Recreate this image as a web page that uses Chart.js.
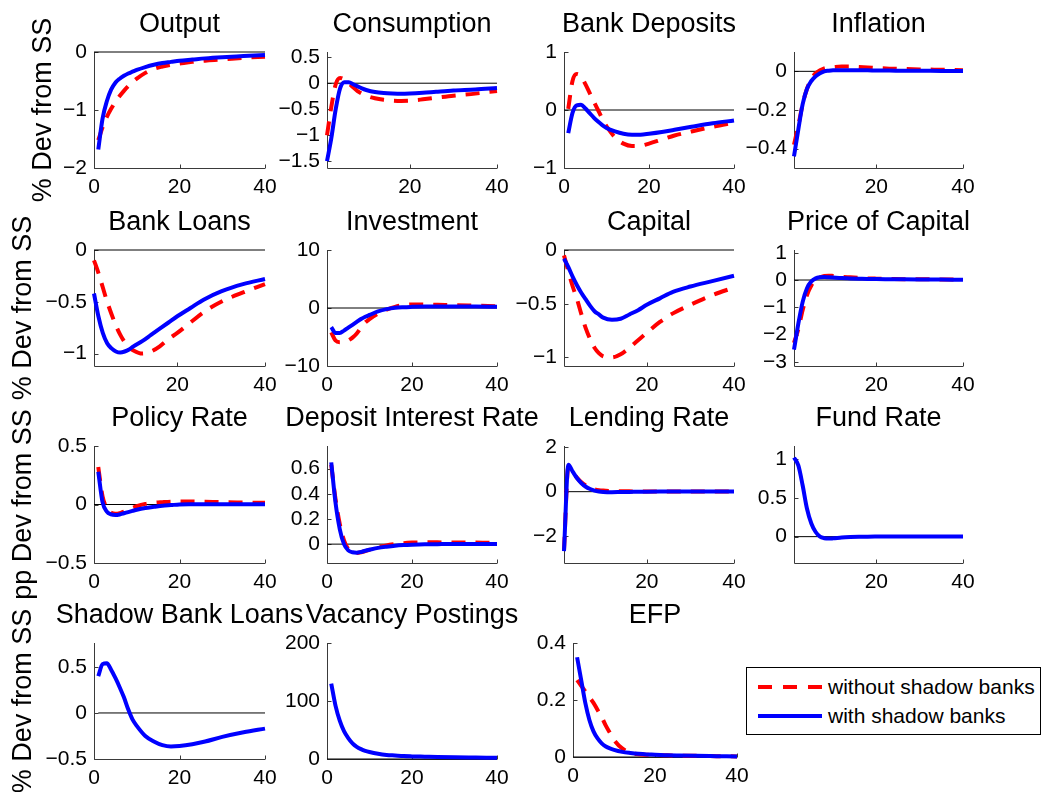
<!DOCTYPE html>
<html>
<head>
<meta charset="utf-8">
<script src="https://cdn.jsdelivr.net/npm/chart.js@4.4.1/dist/chart.umd.min.js"></script>
<style>
  body { margin: 0; background: #fff; }
  #fig { position: relative; width: 1052px; height: 792px; overflow: hidden; background: #fff;
         font-family: "Liberation Sans", Arial, Helvetica, sans-serif; }
  #fig canvas { position: absolute; }
  #legend { position: absolute; left: 746px; top: 667px; width: 295px; height: 68px; box-sizing: border-box;
            border: 1px solid #000; background: #fff; }
  #legend .item { position: absolute; left: 81px; height: 24px; line-height: 24px; font-size: 21px; color: #000; white-space: nowrap; }
</style>
</head>
<body>
<div id="fig">
  <div id="legend">
    <svg width="293" height="66" style="position:absolute;left:0;top:0">
      <line x1="11" y1="19" x2="75" y2="19" stroke="#ff0000" stroke-width="4" stroke-dasharray="14 11"/>
      <line x1="11" y1="48" x2="75" y2="48" stroke="#0000ff" stroke-width="4"/>
    </svg>
    <div class="item" style="top:7px">without shadow banks</div>
    <div class="item" style="top:36px">with shadow banks</div>
  </div>
</div>
<script>
// quarters after the shock
const periods = [1, 2, 3, 4, 5, 6, 7, 8, 9, 10, 12, 14, 16, 18, 20, 23, 26, 30, 35, 40];

// "without shadow banks" (red dashed) and "with shadow banks" (blue solid)
const outputNo = [-1.52, -1.3, -1.12, -0.98, -0.86, -0.76, -0.67, -0.59, -0.52, -0.46, -0.36, -0.29, -0.25, -0.22, -0.2, -0.17, -0.15, -0.13, -0.1, -0.08];
const outputSb = [-1.68, -1.15, -0.85, -0.65, -0.53, -0.46, -0.41, -0.37, -0.34, -0.31, -0.26, -0.22, -0.19, -0.17, -0.15, -0.13, -0.11, -0.09, -0.07, -0.05];

const consumptionNo = [-1.0, -0.45, -0.02, 0.1, 0.07, 0.0, -0.08, -0.15, -0.2, -0.24, -0.29, -0.32, -0.335, -0.34, -0.335, -0.31, -0.28, -0.24, -0.2, -0.15];
const consumptionSb = [-1.5, -1.05, -0.5, -0.1, 0.02, 0.02, -0.02, -0.06, -0.1, -0.13, -0.17, -0.19, -0.2, -0.205, -0.2, -0.185, -0.165, -0.14, -0.12, -0.09];

const depositsNo = [0.02, 0.5, 0.62, 0.58, 0.45, 0.3, 0.15, 0.0, -0.15, -0.28, -0.47, -0.58, -0.62, -0.615, -0.58, -0.51, -0.44, -0.37, -0.29, -0.22];
const depositsSb = [-0.4, -0.05, 0.08, 0.09, 0.03, -0.05, -0.13, -0.2, -0.26, -0.31, -0.37, -0.41, -0.425, -0.425, -0.41, -0.38, -0.34, -0.29, -0.23, -0.18];

const inflationNo = [-0.38, -0.28, -0.17, -0.09, -0.04, -0.01, 0.005, 0.015, 0.02, 0.022, 0.025, 0.025, 0.022, 0.02, 0.017, 0.014, 0.012, 0.01, 0.008, 0.006];
const inflationSb = [-0.44, -0.3, -0.17, -0.09, -0.05, -0.025, -0.01, 0.0, 0.003, 0.005, 0.006, 0.006, 0.005, 0.005, 0.004, 0.004, 0.003, 0.003, 0.002, 0.002];

const loansNo = [-0.1, -0.22, -0.36, -0.5, -0.62, -0.73, -0.82, -0.89, -0.94, -0.97, -1.0, -0.98, -0.93, -0.86, -0.8, -0.7, -0.6, -0.5, -0.41, -0.33];
const loansSb = [-0.42, -0.64, -0.8, -0.9, -0.95, -0.98, -0.99, -0.98, -0.96, -0.93, -0.88, -0.82, -0.76, -0.7, -0.64, -0.56, -0.48, -0.4, -0.33, -0.28];

const investmentNo = [-4.2, -5.6, -5.9, -5.9, -5.6, -5.1, -4.4, -3.4, -2.5, -1.9, -1.0, -0.3, 0.2, 0.5, 0.6, 0.6, 0.55, 0.5, 0.4, 0.3];
const investmentSb = [-3.3, -4.3, -4.3, -3.9, -3.4, -2.9, -2.4, -1.9, -1.5, -1.2, -0.6, -0.2, 0.05, 0.15, 0.2, 0.25, 0.28, 0.28, 0.25, 0.2];

const capitalNo = [-0.05, -0.2, -0.34, -0.46, -0.6, -0.73, -0.83, -0.91, -0.96, -0.99, -1.0, -0.97, -0.91, -0.84, -0.77, -0.67, -0.59, -0.51, -0.42, -0.35];
const capitalSb = [-0.08, -0.16, -0.25, -0.33, -0.4, -0.46, -0.52, -0.57, -0.6, -0.63, -0.65, -0.64, -0.6, -0.56, -0.51, -0.45, -0.39, -0.34, -0.29, -0.24];

const priceKNo = [-2.3, -1.8, -1.1, -0.55, -0.2, 0.0, 0.1, 0.15, 0.16, 0.15, 0.12, 0.1, 0.08, 0.06, 0.05, 0.04, 0.03, 0.03, 0.02, 0.02];
const priceKSb = [-2.55, -1.6, -0.8, -0.3, -0.05, 0.06, 0.1, 0.11, 0.1, 0.09, 0.07, 0.06, 0.05, 0.04, 0.035, 0.03, 0.025, 0.02, 0.015, 0.01];

const policyNo = [0.32, 0.07, -0.03, -0.07, -0.08, -0.075, -0.06, -0.045, -0.03, -0.015, 0.005, 0.015, 0.02, 0.024, 0.025, 0.025, 0.023, 0.02, 0.017, 0.014];
const policySb = [0.28, 0.02, -0.06, -0.085, -0.09, -0.085, -0.075, -0.065, -0.055, -0.045, -0.03, -0.02, -0.01, -0.005, 0.0, 0.002, 0.003, 0.003, 0.003, 0.003];

const depRateNo = [0.63, 0.36, 0.16, 0.03, -0.04, -0.065, -0.07, -0.065, -0.055, -0.045, -0.025, -0.01, 0.0, 0.008, 0.012, 0.014, 0.014, 0.013, 0.012, 0.011];
const depRateSb = [0.65, 0.33, 0.12, 0.0, -0.05, -0.065, -0.068, -0.062, -0.053, -0.045, -0.03, -0.02, -0.012, -0.007, -0.004, -0.001, 0.0, 0.001, 0.001, 0.001];

const lendingNo = [-2.65, 1.12, 0.88, 0.62, 0.42, 0.28, 0.18, 0.11, 0.07, 0.05, 0.03, 0.02, 0.015, 0.012, 0.01, 0.01, 0.01, 0.01, 0.01, 0.01];
const lendingSb = [-2.67, 1.21, 0.9, 0.6, 0.38, 0.22, 0.12, 0.05, 0.01, -0.01, -0.02, -0.015, -0.01, -0.005, 0.0, 0.005, 0.008, 0.01, 0.01, 0.01];

const fundSb = [1.02, 0.92, 0.66, 0.36, 0.17, 0.06, 0.0, -0.02, -0.025, -0.022, -0.012, -0.006, -0.002, 0.0, 0.001, 0.002, 0.002, 0.002, 0.001, 0.001];

const shadowLoansSb = [0.4, 0.53, 0.54, 0.47, 0.38, 0.28, 0.17, 0.04, -0.07, -0.14, -0.25, -0.31, -0.35, -0.365, -0.36, -0.34, -0.31, -0.26, -0.21, -0.17];

const vacancySb = [130, 92, 66, 48, 36, 27, 21, 17, 14, 12, 9, 7, 6, 5, 4.5, 4, 3.5, 3, 2.5, 2];

const efpNo = [0.27, 0.25, 0.23, 0.21, 0.19, 0.165, 0.14, 0.11, 0.085, 0.06, 0.03, 0.015, 0.01, 0.008, 0.007, 0.006, 0.005, 0.004, 0.003, 0.002];
const efpSb = [0.35, 0.27, 0.19, 0.13, 0.09, 0.065, 0.048, 0.037, 0.03, 0.025, 0.018, 0.014, 0.011, 0.009, 0.008, 0.006, 0.005, 0.004, 0.003, 0.002];

const pctLabel = '% Dev from SS';
const ppLabel = 'pp Dev from SS';

const panels = [
  { title: 'Output', row: 0, col: 0, no: outputNo, sb: outputSb, yMin: -2, yMax: 0, yTicks: [-2, -1, 0], xMin: 0, ylabel: pctLabel, ylabelPad: 27 },
  { title: 'Consumption', row: 0, col: 1, no: consumptionNo, sb: consumptionSb, yMin: -1.63, yMax: 0.6, yTicks: [-1.5, -1, -0.5, 0, 0.5], xMin: 1 },
  { title: 'Bank Deposits', row: 0, col: 2, no: depositsNo, sb: depositsSb, yMin: -1, yMax: 1, yTicks: [-1, 0, 1], xMin: 0 },
  { title: 'Inflation', row: 0, col: 3, no: inflationNo, sb: inflationSb, yMin: -0.5, yMax: 0.1, yTicks: [-0.4, -0.2, 0], xMin: 1 },
  { title: 'Bank Loans', row: 1, col: 0, no: loansNo, sb: loansSb, yMin: -1.12, yMax: 0, yTicks: [-1, -0.5, 0], xMin: 1, ylabel: pctLabel, ylabelPad: 7 },
  { title: 'Investment', row: 1, col: 1, no: investmentNo, sb: investmentSb, yMin: -10, yMax: 10, yTicks: [-10, 0, 10], xMin: 0 },
  { title: 'Capital', row: 1, col: 2, no: capitalNo, sb: capitalSb, yMin: -1.08, yMax: 0, yTicks: [-1, -0.5, 0], xMin: 1 },
  { title: 'Price of Capital', row: 1, col: 3, no: priceKNo, sb: priceKSb, yMin: -3.15, yMax: 1.1, yTicks: [-3, -2, -1, 0, 1], xMin: 1 },
  { title: 'Policy Rate', row: 2, col: 0, no: policyNo, sb: policySb, yMin: -0.5, yMax: 0.5, yTicks: [-0.5, 0, 0.5], xMin: 0, ylabel: ppLabel, ylabelPad: 7 },
  { title: 'Deposit Interest Rate', row: 2, col: 1, no: depRateNo, sb: depRateSb, yMin: -0.15, yMax: 0.78, yTicks: [0, 0.2, 0.4, 0.6], xMin: 0 },
  { title: 'Lending Rate', row: 2, col: 2, no: lendingNo, sb: lendingSb, yMin: -3.2, yMax: 2.05, yTicks: [-2, 0, 2], xMin: 1 },
  { title: 'Fund Rate', row: 2, col: 3, no: null, sb: fundSb, yMin: -0.34, yMax: 1.17, yTicks: [0, 0.5, 1], xMin: 1 },
  { title: 'Shadow Bank Loans', row: 3, col: 0, no: null, sb: shadowLoansSb, yMin: -0.5, yMax: 0.76, yTicks: [-0.5, 0, 0.5], xMin: 0, zeroFrom: 1, ylabel: pctLabel, ylabelPad: 7 },
  { title: 'Vacancy Postings', row: 3, col: 1, no: null, sb: vacancySb, yMin: 0, yMax: 200, yTicks: [0, 100, 200], xMin: 0 },
  { title: 'EFP', row: 3, col: 2, no: efpNo, sb: efpSb, yMin: 0, yMax: 0.4, yTicks: [0, 0.2, 0.4], xMin: 0, box: [573, 737, 643, 757] }
];

// subplot boxes (pixels)
const colLeft = [94, 327, 564, 794];
const colRight = [265, 497, 734, 963];
const rowTop = [52, 250, 446, 643];
const rowBottom = [168, 366, 563, 759];
const ML = 90, MT = 55, MR = 60, MB = 40;
const FONT = '"Liberation Sans", Arial, Helvetica, sans-serif';

function fmt(v) {
  const r = Math.round(v * 1000) / 1000;
  return (r < 0 ? '\u2212' : '') + Math.abs(r);
}

// matlab-like axes: left + bottom lines, inward ticks, title on top
const matlabAxes = {
  id: 'matlabAxes',
  beforeDatasetsDraw(chart) {
    const { ctx, chartArea: a, scales: { x, y } } = chart;
    const l = Math.round(a.left) + 0.5, b = Math.round(a.bottom) + 0.5;
    ctx.save();
    ctx.strokeStyle = '#3a3a3a';
    ctx.lineWidth = 1;
    ctx.beginPath();
    ctx.moveTo(l, Math.round(a.top));
    ctx.lineTo(l, b);
    ctx.lineTo(Math.round(a.right), b);
    x.ticks.forEach(t => {
      const p = Math.round(x.getPixelForValue(t.value)) + 0.5;
      ctx.moveTo(p, b);
      ctx.lineTo(p, b - 4);
    });
    y.ticks.forEach(t => {
      const p = Math.round(y.getPixelForValue(t.value)) + 0.5;
      ctx.moveTo(l, p);
      ctx.lineTo(l + 4, p);
    });
    ctx.stroke();
    ctx.restore();
  },
  afterDraw(chart, args, opts) {
    const { ctx, chartArea: a } = chart;
    ctx.save();
    ctx.fillStyle = '#000';
    ctx.font = '27px ' + FONT;
    ctx.textAlign = 'center';
    ctx.textBaseline = 'alphabetic';
    ctx.fillText(opts.title, (a.left + a.right) / 2, a.top - 20);
    ctx.restore();
  }
};

function line(values, color, dash, order) {
  return {
    data: periods.map((x, i) => ({ x, y: values[i] })),
    borderColor: color,
    borderWidth: 4,
    borderDash: dash,
    pointRadius: 0,
    cubicInterpolationMode: 'monotone',
    fill: false,
    clip: 8,
    order
  };
}

const fig = document.getElementById('fig');

panels.forEach(p => {
  const [left, right, top, bottom] = p.box || [colLeft[p.col], colRight[p.col], rowTop[p.row], rowBottom[p.row]];
  const ml = p.col === 0 ? left : ML;
  const w = ml + (right - left) + MR;
  const h = MT + (bottom - top) + MB;
  const canvas = document.createElement('canvas');
  canvas.width = w;
  canvas.height = h;
  canvas.style.left = (left - ml) + 'px';
  canvas.style.top = (top - MT) + 'px';
  canvas.style.width = w + 'px';
  canvas.style.height = h + 'px';
  fig.insertBefore(canvas, document.getElementById('legend'));

  const zeroFrom = p.zeroFrom !== undefined ? p.zeroFrom : p.xMin;
  const datasets = [
    { data: [{ x: zeroFrom, y: 0 }, { x: 40, y: 0 }], borderColor: '#000', borderWidth: 1, pointRadius: 0, clip: 8, order: 3 }
  ];
  if (p.no) datasets.push(line(p.no, '#ff0000', [14, 10], 2));
  datasets.push(line(p.sb, '#0000ff', [], 1));

  new Chart(canvas, {
    type: 'line',
    data: { datasets },
    options: {
      responsive: false,
      animation: false,
      devicePixelRatio: 1,
      events: [],
      layout: { padding: { left: 0, top: MT, right: MR, bottom: 0 } },
      plugins: {
        legend: { display: false },
        tooltip: { enabled: false },
        matlabAxes: { title: p.title }
      },
      scales: {
        x: {
          type: 'linear',
          min: p.xMin,
          max: 40,
          grid: { display: false, drawTicks: false },
          border: { display: false },
          afterBuildTicks: s => { s.ticks = [0, 20, 40].filter(v => v >= p.xMin).map(v => ({ value: v })); },
          afterFit: s => { s.height = MB; },
          ticks: { color: '#000', font: { family: FONT, size: 21 }, padding: 7, maxRotation: 0, autoSkip: false, callback: v => fmt(v) }
        },
        y: {
          min: p.yMin,
          max: p.yMax,
          grid: { display: false, drawTicks: false },
          border: { display: false },
          afterBuildTicks: s => { s.ticks = p.yTicks.map(v => ({ value: v })); },
          afterFit: s => { s.width = ml; },
          ticks: { color: '#000', font: { family: FONT, size: 21 }, padding: 7, autoSkip: false, callback: v => fmt(v) },
          title: {
            display: !!p.ylabel,
            text: p.ylabel || '',
            color: '#000',
            font: { family: FONT, size: 27 },
            padding: { top: p.ylabelPad || 0, bottom: 0 }
          }
        }
      }
    },
    plugins: [matlabAxes]
  });
});
</script>
</body>
</html>
